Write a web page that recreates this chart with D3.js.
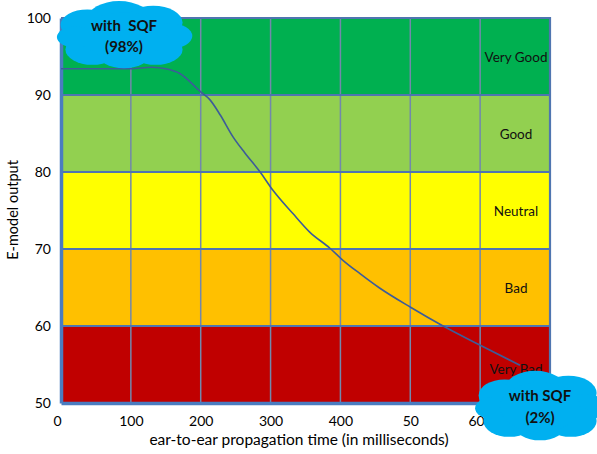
<!DOCTYPE html>
<html><head><meta charset="utf-8">
<script src="https://cdn.jsdelivr.net/npm/d3@7"></script>
<style>
body{margin:0;background:#fff;}
text{font-family:Lato,"Open Sans",sans-serif;}
</style></head>
<body><svg id="c" width="597" height="454"></svg>
<script>
// ---- data ----
const delayMs = [0, 50, 100, 130, 150, 170, 200, 213, 228, 246, 263, 285, 302, 332, 356, 385, 404, 428, 455, 501, 545, 598, 657];
const eModel  = [93.4, 93.4, 93.4, 93.6, 93.4, 92.8, 90.4, 89.4, 87.4, 84.6, 82.5, 80.0, 77.8, 74.6, 72.2, 70.1, 68.5, 66.8, 65.0, 62.4, 60.1, 57.6, 54.9];
const bandNames = ["Very Bad", "Bad", "Neutral", "Good", "Very Good"];
const bandLow   = [50, 60, 70, 80, 90];
const bandHigh  = [60, 70, 80, 90, 100];
const bandColors = ["#c00000", "#ffc000", "#ffff00", "#92d050", "#00b050"];
const xTicks = [0, 100, 200, 300, 400, 500, 600];
const xTickLabels = ["0", "100", "200", "300", "400", "50", "600"];
const yTicks = [50, 60, 70, 80, 90, 100];
const cloudTexts = [["with  SQF", "(98%)"], ["with SQF", "(2%)"]];

// ---- layout ----
const svg = d3.select("#c");
const x = d3.scaleLinear().domain([0, 700]).range([61, 550]);
const y = d3.scaleLinear().domain([50, 100]).range([403, 18]);

// bands
svg.selectAll("rect.band").data(bandNames).join("rect")
  .attr("x", x(0)).attr("width", x(700) - x(0))
  .attr("y", (d, i) => y(bandHigh[i]))
  .attr("height", (d, i) => y(bandLow[i]) - y(bandHigh[i]))
  .attr("fill", (d, i) => bandColors[i]);

// vertical gridlines
svg.selectAll("line.vg").data(xTicks.slice(1)).join("line")
  .attr("x1", d => x(d)).attr("x2", d => x(d))
  .attr("y1", y(100)).attr("y2", y(50))
  .attr("stroke", "#7288ac").attr("stroke-width", 1.5);

// horizontal band boundaries
svg.selectAll("line.hg").data([60, 70, 80, 90, 100]).join("line")
  .attr("x1", x(0)).attr("x2", x(700))
  .attr("y1", d => y(d)).attr("y2", d => y(d))
  .attr("stroke", "#4f75b0").attr("stroke-width", 2.2);
svg.append("line").attr("x1", x(700)).attr("x2", x(700)).attr("y1", y(100) - 1).attr("y2", y(50))
  .attr("stroke", "#4f75b0").attr("stroke-width", 2.2);

// axes
const xAxis = d3.axisBottom(x).tickValues(xTicks).tickFormat((d, i) => xTickLabels[i]).tickSize(0).tickPadding(13);
const gx = svg.append("g").attr("transform", `translate(0,${y(50)})`).call(xAxis);
gx.select(".domain").attr("stroke", "#4a7cc0").attr("stroke-width", 3.5);
gx.selectAll("text").attr("font-size", 14).attr("fill", "#000").attr("font-family", "Lato, sans-serif")
  .attr("dx", (d, i) => i === 0 ? -4 : 0);

const yAxis = d3.axisLeft(y).tickValues(yTicks).tickSize(0).tickPadding(10);
const gy = svg.append("g").attr("transform", `translate(${x(0)},0)`).call(yAxis);
gy.select(".domain").attr("stroke", "#4a7cc0").attr("stroke-width", 3.5);
gy.selectAll("text").attr("font-size", 14).attr("fill", "#000").attr("font-family", "Lato, sans-serif");

// axis titles
svg.append("text").attr("x", 299).attr("y", 445).attr("text-anchor", "middle")
  .attr("font-size", 15.5).text("ear-to-ear propagation time (in milliseconds)");
svg.append("text").attr("transform", "translate(18,210) rotate(-90)").attr("text-anchor", "middle")
  .attr("font-size", 14.5).text("E-model output");

// curve
const pts = delayMs.map((d, i) => [d, eModel[i]]);
svg.append("path").datum(pts)
  .attr("fill", "none").attr("stroke", "#3d5c99").attr("stroke-width", 1.6)
  .attr("d", d3.line().x(d => x(d[0])).y(d => y(d[1])).curve(d3.curveMonotoneX));

// band labels
svg.selectAll("text.bl").data(bandNames).join("text")
  .attr("x", 516).attr("y", (d, i) => (y(bandLow[i]) + y(bandHigh[i])) / 2 + 5 + (i === 0 ? 4 : 0))
  .attr("text-anchor", "middle").attr("font-size", 13.5).attr("fill", "#111")
  .text(d => d);

// clouds
const bumps = [
  [-0.30, -0.20, 0.22], [-0.04, -0.30, 0.26], [0.24, -0.24, 0.24], [0.38, 0.00, 0.18],
  [0.26, 0.24, 0.22], [0.00, 0.30, 0.22], [-0.26, 0.24, 0.22], [-0.40, 0.02, 0.15], [0, 0, 0.34]
];
function cloud(cx, cy, w, h, lines, fs, gap) {
  const g = svg.append("g");
  g.selectAll("ellipse").data(bumps).join("ellipse")
    .attr("cx", d => cx + d[0] * w).attr("cy", d => cy + d[1] * h)
    .attr("rx", d => d[2] * w).attr("ry", d => d[2] * h * 1.25)
    .attr("fill", "#00b0f0");
  g.selectAll("text").data(lines).join("text")
    .attr("x", cx).attr("y", (d, i) => cy - gap / 2 + i * gap + fs * 0.35)
    .attr("text-anchor", "middle").attr("font-weight", "bold").attr("font-size", fs)
    .attr("fill", "#111").attr("font-family", "Lato, sans-serif")
    .style("white-space", "pre").text(d => d);
}
cloud(124, 36, 122, 56, cloudTexts[0], 15, 21);
cloud(540, 407, 118, 58, cloudTexts[1], 15, 22);
</script></body></html>
